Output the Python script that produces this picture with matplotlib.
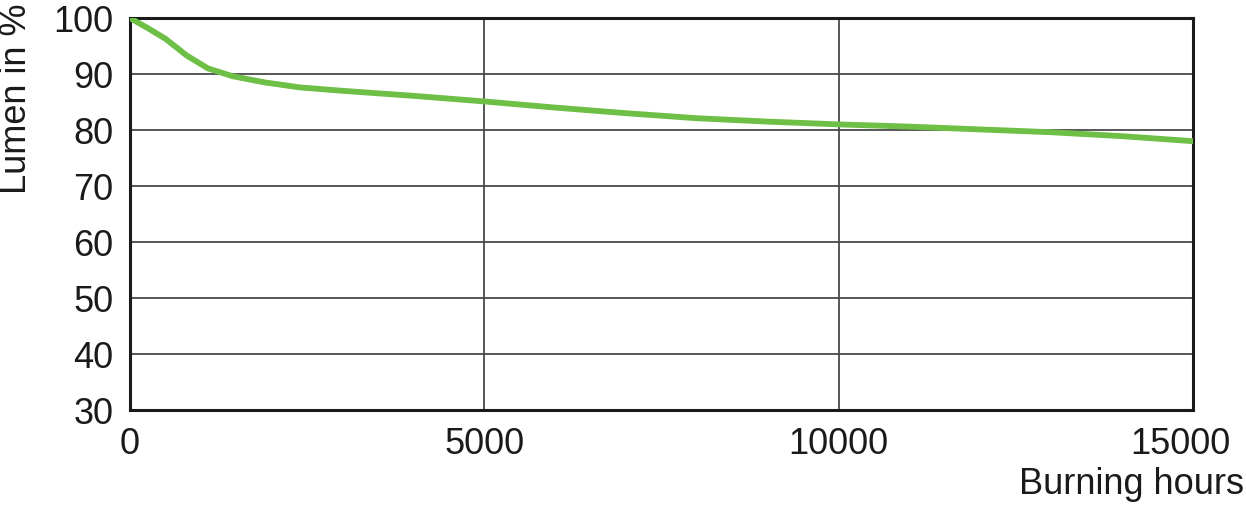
import numpy as np
import matplotlib
matplotlib.use("Agg")
import matplotlib.pyplot as plt
import matplotlib.transforms as mtransforms

plt.rcParams['font.family'] = ['Liberation Sans', 'DejaVu Sans']

# lumen maintenance curve
hours = [0, 250, 500, 800, 1100, 1450, 1900, 2400, 3000, 4000, 5000,
         6000, 7000, 8000, 8500, 9000, 10000, 11000, 12000, 13000, 14000, 15000]
lumen = [100, 98.2, 96.3, 93.3, 91.0, 89.6, 88.5, 87.6, 87.0, 86.1, 85.1,
         84.0, 83.0, 82.1, 81.8, 81.5, 81.0, 80.6, 80.1, 79.6, 78.9, 78.0]

x_ticks = [0, 5000, 10000, 15000]
y_ticks = [30, 40, 50, 60, 70, 80, 90, 100]

fig = plt.figure(figsize=(12.46, 5.05), dpi=100)
ax = fig.add_axes([130/1246, 1 - 410/505, (1193 - 130)/1246, (410 - 18)/505])

ax.plot(hours, lumen, color='#6dbf45', lw=4.2, solid_capstyle='round',
        solid_joinstyle='round', zorder=3)

ax.set_xlim(0, 15000)
ax.set_ylim(30, 100)
ax.set_xticks(x_ticks)
ax.set_yticks(y_ticks)
ax.grid(True, color='#4a4a4a', lw=1.3)
ax.set_axisbelow(True)
for s in ax.spines.values():
    s.set_linewidth(2.2)
    s.set_color('#1a1a1a')
ax.tick_params(length=0, labelsize=26, colors='#1a1a1a')
ax.tick_params(axis='y', pad=12)
ax.tick_params(axis='x', pad=12)

# last x label sits a bit left of its grid line in the original
last = ax.get_xticklabels()[-1]
last.set_transform(last.get_transform() +
                   mtransforms.ScaledTranslation(-0.13, 0, fig.dpi_scale_trans))

fig.text(17/1246, 1 - 4/505, 'Lumen in %', rotation=90, ha='center', va='top',
         fontsize=26, color='#1a1a1a')
fig.text(1244/1246, 1 - 484/505, 'Burning hours', ha='right', va='center',
         fontsize=26, color='#1a1a1a')

fig.savefig('out.png', dpi=100)
